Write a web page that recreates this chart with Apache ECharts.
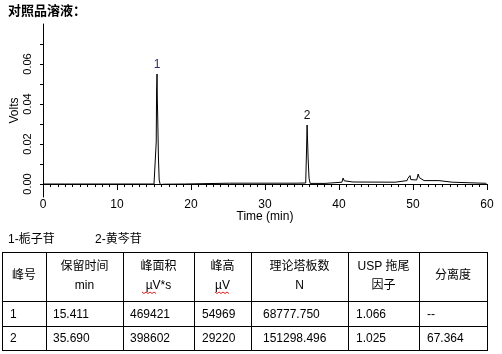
<!DOCTYPE html>
<html>
<head>
<meta charset="utf-8">
<script src="https://cdn.jsdelivr.net/npm/echarts@6/dist/echarts.min.js"></script>
<style>
html,body{margin:0;padding:0;background:#fff;}
#chart{width:502px;height:354px;}
</style>
</head>
<body>
<div id="chart"></div>
<script>
// chromatogram (min / Volts)
var times = [0, 2.9, 3.0, 3.1, 3.9, 4.0, 4.1, 15.0,
	15.25, 15.3, 15.35, 15.41, 15.45, 15.5, 15.6, 15.7, 15.85, 16.3,
	19.1, 19.2, 25.2, 25.3, 25.4, 34.2, 34.3, 34.4,
	35.5, 35.6, 35.69, 35.75, 35.82, 35.95, 36.1,
	38.1, 38.2, 40.4, 40.55, 40.7, 40.9, 41.9, 42.0, 42.1,
	47.6, 47.7, 49.2, 49.3, 49.4, 49.5, 49.6, 49.7, 49.8,
	50.5, 50.7, 50.85, 51.0, 51.5, 53.5, 53.6, 55.3, 55.4, 59.8, 60];
var volts = [0, 0, 0.0006, 0, 0, -0.0003, 0, 0,
	0.0005, 0.021, 0.046, 0.055, 0.042, 0.034, 0.013, 0.002, -0.0003, -0.0001,
	0, 0.0004, 0.0004, 0.0008, 0.0004, 0.0004, 0.0009, 0.0004,
	0.0005, 0.015, 0.0295, 0.022, 0.0135, 0.003, 0.0003,
	0.0003, 0.0009, 0.0009, 0.003, 0.0016, 0.001, 0.001, 0.0016, 0.001,
	0.0009, 0.0017, 0.0017, 0.0028, 0.0018, 0.0018, 0.0042, 0.0022, 0.0021,
	0.002, 0.005, 0.0032, 0.0022, 0.0017, 0.0017, 0.0009, 0.0009, 0.00035, 0.00035, -0.0002];
var peakTimes = [15.41, 35.69];
var peakTags = ['1', '2'];
var peakNames = ['栀子苷', '黄芩苷'];

var yTicks = [0, 0.01, 0.02, 0.03, 0.04, 0.05, 0.06, 0.07];
var yLabels = [0, 0.02, 0.04, 0.06];

// table
var headers = [['峰号'], ['保留时间', 'min'], ['峰面积', 'µV*s'], ['峰高', 'µV'], ['理论塔板数', 'N'], ['USP 拖尾', '因子'], ['分离度']];
var peakNo = ['1', '2'];
var retention = ['15.411', '35.690'];
var area = ['469421', '398602'];
var height = ['54969', '29220'];
var plates = ['68777.750', '151298.496'];
var tailing = ['1.066', '1.025'];
var resolution = ['--', '67.364'];

var FONT = '"Liberation Sans", Arial, "Noto Sans CJK SC", sans-serif';
var colX = [2, 46, 123, 194, 251, 348, 419, 487];
var colPad = [8, 7, 7, 8, 12, 8, 8];
var rowY = [252, 301, 326, 350];

var seriesData = [];
for (var i = 0; i < times.length; i++) seriesData.push([times[i], volts[i]]);

var peakMarks = [];
for (var k = 0; k < peakTimes.length; k++) {
	var idx = times.indexOf(peakTimes[k]);
	peakMarks.push({coord: [peakTimes[k], volts[idx]], value: peakTags[k],
		label: {color: k == 0 ? '#2a2a70' : '#111'}});
}

var graphics = [];
graphics.push({type: 'text', left: 8, top: 5, style: {text: '对照品溶液：', font: 'bold 13px ' + FONT, fill: '#000'}});
graphics.push({type: 'text', x: 8, y: 234, style: {text: peakTags[0] + '-' + peakNames[0], font: '12px ' + FONT, fill: '#000'}});
graphics.push({type: 'text', x: 95, y: 234, style: {text: peakTags[1] + '-' + peakNames[1], font: '12px ' + FONT, fill: '#000'}});

// grid lines of the table
for (var r = 0; r < rowY.length; r++) {
	graphics.push({type: 'line', shape: {x1: colX[0], y1: rowY[r] + 0.5, x2: colX[colX.length - 1] + 1, y2: rowY[r] + 0.5},
		style: {stroke: '#000', lineWidth: 1}});
}
for (var c = 0; c < colX.length; c++) {
	graphics.push({type: 'line', shape: {x1: colX[c] + 0.5, y1: rowY[0], x2: colX[c] + 0.5, y2: rowY[rowY.length - 1] + 1},
		style: {stroke: '#000', lineWidth: 1}});
}
// header cells
for (var c = 0; c < headers.length; c++) {
	var cx = (colX[c] + colX[c + 1]) / 2;
	if (headers[c].length == 1) {
		graphics.push({type: 'text', x: cx, y: 276, style: {text: headers[c][0], font: '12px ' + FONT, fill: '#000', align: 'center', verticalAlign: 'middle'}});
	} else {
		graphics.push({type: 'text', x: cx, y: 267, style: {text: headers[c][0], font: '12px ' + FONT, fill: '#000', align: 'center', verticalAlign: 'middle'}});
		graphics.push({type: 'text', x: cx, y: 286, style: {text: headers[c][1], font: '12px ' + FONT, fill: '#000', align: 'center', verticalAlign: 'middle'}});
	}
}
// spell-check squiggles under µV
function squiggle(x0, x1, y) {
	var pts = [];
	for (var x = x0, j = 0; x <= x1; x += 2, j++) pts.push([x, y + (j % 2 ? 1.5 : 0)]);
	graphics.push({type: 'polyline', shape: {points: pts}, style: {stroke: '#e02020', lineWidth: 1, fill: null}});
}
squiggle(142, 156, 292);
squiggle(215, 229, 292);
// body cells
var cols = [peakNo, retention, area, height, plates, tailing, resolution];
for (var r = 0; r < peakNo.length; r++) {
	var cy = (rowY[r + 1] + rowY[r + 2]) / 2 + 1;
	for (var c = 0; c < cols.length; c++) {
		graphics.push({type: 'text', x: colX[c] + colPad[c], y: cy,
			style: {text: cols[c][r], font: '12px ' + FONT, fill: '#000', align: 'left', verticalAlign: 'middle'}});
	}
}

var myChart = echarts.init(document.getElementById('chart'));
var option = {
	animation: false,
	backgroundColor: '#fff',
	grid: {left: 43, right: 15, top: 24, bottom: 157, containLabel: false, outerBoundsMode: 'none'},
	xAxis: {
		type: 'value', min: 0, max: 60, interval: 10, offset: -7,
		name: 'Time (min)', nameLocation: 'middle', nameGap: 21, nameMoveOverlap: false,
		nameTextStyle: {color: '#000', fontSize: 12, fontFamily: FONT},
		axisLine: {lineStyle: {color: '#000', width: 1}},
		axisTick: {length: 6, lineStyle: {color: '#000'}},
		minorTick: {show: true, splitNumber: 10, length: 3, lineStyle: {color: '#000'}},
		axisLabel: {color: '#000', fontSize: 12, fontFamily: FONT, margin: 9},
		splitLine: {show: false}
	},
	yAxis: {
		type: 'value', min: -0.0065, max: 0.08,
		name: 'Volts', nameLocation: 'middle', nameGap: 22, nameRotate: 90, nameMoveOverlap: false,
		nameTextStyle: {color: '#000', fontSize: 12, fontFamily: FONT},
		axisLine: {show: true, lineStyle: {color: '#000', width: 1}},
		axisTick: {show: true, length: 3, customValues: yTicks, lineStyle: {color: '#000'}},
		axisLabel: {color: '#000', fontSize: 11, fontFamily: FONT, rotate: 90, margin: 10,
			customValues: yLabels, formatter: function (v) { return v.toFixed(2); }},
		splitLine: {show: false}
	},
	series: [{
		type: 'line', data: seriesData, symbol: 'none', silent: true,
		lineStyle: {color: '#000', width: 1},
		markPoint: {
			symbol: 'circle', symbolSize: 0, silent: true,
			label: {show: true, position: 'top', distance: 3, fontSize: 12, fontFamily: FONT,
				formatter: function (p) { return p.value; }},
			data: peakMarks
		}
	}],
	graphic: graphics
};
myChart.setOption(option);
</script>
</body>
</html>
